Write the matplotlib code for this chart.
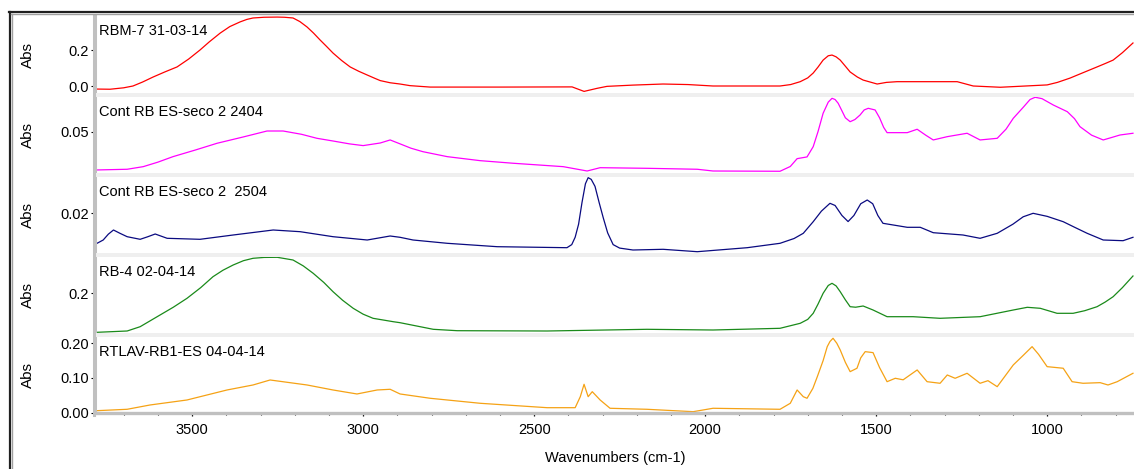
import matplotlib
matplotlib.use("Agg")
import matplotlib.pyplot as plt
from matplotlib.ticker import MultipleLocator, FormatStrFormatter
from matplotlib.lines import Line2D
from matplotlib.patches import Rectangle

plt.rcParams['font.family'] = ['Liberation Sans', 'DejaVu Sans']

# ---------------- data: (wavenumber, absorbance) ----------------
titles = ["RBM-7 31-03-14", "Cont RB ES-seco 2 2404", "Cont RB ES-seco 2  2504",
          "RB-4 02-04-14", "RTLAV-RB1-ES 04-04-14"]
colors = ["#ff0000", "#ff00ff", "#0a0a80", "#1a8a1a", "#f5a215"]

red = [(3784, -0.012), (3778, -0.017), (3740, -0.018), (3700, -0.01), (3673, 0.0),
       (3645, 0.022), (3614, 0.05), (3580, 0.078), (3544, 0.106), (3510, 0.15),
       (3477, 0.2), (3450, 0.245), (3418, 0.294), (3390, 0.33), (3360, 0.356),
       (3340, 0.37), (3322, 0.378), (3290, 0.382), (3251, 0.383), (3230, 0.382),
       (3205, 0.378), (3185, 0.358), (3164, 0.328), (3145, 0.294), (3126, 0.256),
       (3107, 0.22), (3088, 0.183), (3063, 0.142), (3038, 0.106), (3013, 0.082),
       (2988, 0.061), (2965, 0.042), (2950, 0.03), (2921, 0.018), (2892, 0.011),
       (2863, 0.002), (2804, -0.006), (2600, -0.006), (2389, -0.005), (2354, -0.03),
       (2316, -0.013), (2287, -0.002), (2211, 0.005), (2123, 0.011), (2050, 0.008),
       (1977, 0.0), (1850, 0.0), (1781, 0.0), (1750, 0.008), (1722, 0.024),
       (1700, 0.045), (1684, 0.072), (1670, 0.105), (1655, 0.144), (1640, 0.168),
       (1629, 0.172), (1617, 0.162), (1605, 0.144), (1590, 0.11), (1576, 0.078),
       (1555, 0.05), (1538, 0.033), (1497, 0.011), (1470, 0.02), (1439, 0.024),
       (1263, 0.024), (1216, 0.0), (1137, -0.007), (1000, 0.006), (970, 0.02),
       (933, 0.044), (900, 0.07), (854, 0.106), (830, 0.125), (807, 0.144),
       (780, 0.185), (749, 0.239)]

magenta = [(3784, 0.0058), (3778, 0.006), (3690, 0.0068), (3643, 0.0098), (3600, 0.015),
           (3556, 0.0213), (3490, 0.029), (3427, 0.0367), (3350, 0.044), (3281, 0.0508),
           (3234, 0.0508), (3180, 0.047), (3135, 0.0424), (3088, 0.0393), (3040, 0.036),
           (3000, 0.034), (2950, 0.037), (2921, 0.0405), (2892, 0.036), (2860, 0.031),
           (2825, 0.027), (2754, 0.0213), (2658, 0.0167), (2561, 0.0137), (2415, 0.0098),
           (2345, 0.0048), (2307, 0.0086), (2170, 0.0079), (2023, 0.0068), (1977, 0.0048),
           (1781, 0.0045), (1751, 0.010), (1731, 0.019), (1702, 0.021), (1684, 0.0328),
           (1670, 0.05), (1655, 0.0712), (1640, 0.084), (1629, 0.0884), (1620, 0.087),
           (1611, 0.0827), (1600, 0.074), (1590, 0.066), (1576, 0.0615), (1562, 0.064),
           (1547, 0.0692), (1535, 0.075), (1523, 0.0769), (1503, 0.075), (1490, 0.066),
           (1478, 0.055), (1468, 0.0489), (1409, 0.0489), (1380, 0.0528), (1355, 0.046),
           (1333, 0.0405), (1292, 0.0443), (1234, 0.0482), (1196, 0.0405), (1146, 0.0424),
           (1120, 0.053), (1099, 0.0654), (1070, 0.078), (1050, 0.087), (1035, 0.0896),
           (1015, 0.088), (982, 0.0807), (941, 0.073), (920, 0.065), (904, 0.0558),
           (870, 0.046), (836, 0.0405), (810, 0.0435), (787, 0.0462), (749, 0.0482)]

navy = [(3784, 0.0134), (3778, 0.0131), (3760, 0.01386), (3745, 0.0152), (3730, 0.01616),
        (3711, 0.0154), (3690, 0.01462), (3652, 0.01402), (3630, 0.0146), (3608, 0.01524),
        (3573, 0.01425), (3477, 0.01402), (3380, 0.01501), (3263, 0.01616), (3184, 0.01577),
        (3088, 0.01462), (2988, 0.01386), (2921, 0.01478), (2892, 0.01448), (2854, 0.01386),
        (2754, 0.0131), (2608, 0.01232), (2404, 0.01209), (2390, 0.0128), (2380, 0.0145),
        (2370, 0.0175), (2360, 0.0225), (2350, 0.0268), (2342, 0.0282), (2333, 0.0278),
        (2322, 0.0262), (2310, 0.0225), (2298, 0.0190), (2285, 0.0155), (2269, 0.0128),
        (2250, 0.0120), (2211, 0.01156), (2123, 0.01172), (2023, 0.01117), (1877, 0.01209),
        (1781, 0.0131), (1740, 0.0142), (1713, 0.0154), (1684, 0.01807), (1660, 0.0205),
        (1635, 0.0223), (1620, 0.0218), (1600, 0.0195), (1582, 0.0181), (1565, 0.0195),
        (1545, 0.0222), (1526, 0.02306), (1510, 0.0222), (1495, 0.0195), (1480, 0.0177),
        (1409, 0.01678), (1371, 0.01678), (1333, 0.01554), (1246, 0.01501), (1196, 0.01425),
        (1146, 0.0154), (1100, 0.0175), (1070, 0.0192), (1041, 0.02), (1000, 0.0193),
        (953, 0.01807), (920, 0.0168), (883, 0.0154), (836, 0.01386), (778, 0.0137),
        (749, 0.01448)]

green = [(3784, 0.110), (3778, 0.1103), (3690, 0.1133), (3652, 0.1232), (3594, 0.150),
         (3555, 0.168), (3515, 0.1885), (3475, 0.213), (3439, 0.2382), (3410, 0.253),
         (3380, 0.2651), (3350, 0.275), (3322, 0.2805), (3290, 0.2825), (3251, 0.2828),
         (3205, 0.2766), (3175, 0.263), (3146, 0.246), (3115, 0.225), (3088, 0.2037),
         (3060, 0.184), (3029, 0.1655), (3000, 0.152), (2971, 0.1425), (2912, 0.1347),
         (2892, 0.1324), (2795, 0.1172), (2725, 0.114), (2462, 0.1133), (2170, 0.1172),
         (1977, 0.1156), (1781, 0.1195), (1722, 0.131), (1700, 0.14), (1684, 0.154),
         (1670, 0.175), (1655, 0.2), (1640, 0.218), (1629, 0.223), (1617, 0.217),
         (1605, 0.2037), (1590, 0.185), (1576, 0.1692), (1560, 0.168), (1538, 0.1708),
         (1509, 0.1616), (1468, 0.1462), (1392, 0.1462), (1313, 0.1425), (1196, 0.1462),
         (1099, 0.1616), (1058, 0.1678), (1020, 0.1655), (971, 0.154), (924, 0.154),
         (890, 0.16), (854, 0.1692), (830, 0.18), (807, 0.1922), (780, 0.213),
         (749, 0.2398)]

orange = [(3784, 0.005), (3778, 0.0058), (3690, 0.0098), (3623, 0.0222), (3515, 0.0366),
          (3398, 0.0654), (3322, 0.0798), (3272, 0.0942), (3164, 0.0798), (3088, 0.0654),
          (3018, 0.0539), (2959, 0.0654), (2921, 0.0674), (2892, 0.0539), (2804, 0.0415),
          (2658, 0.0271), (2462, 0.0144), (2380, 0.0144), (2365, 0.0461), (2354, 0.0818),
          (2342, 0.0461), (2330, 0.0605), (2307, 0.0366), (2278, 0.0127), (2170, 0.0098),
          (2035, 0.0029), (1977, 0.0127), (1781, 0.0098), (1751, 0.0271), (1731, 0.0654),
          (1713, 0.0461), (1702, 0.0415), (1685, 0.07), (1672, 0.1037), (1655, 0.15),
          (1643, 0.1902), (1635, 0.205), (1626, 0.2144), (1615, 0.2), (1605, 0.1807),
          (1590, 0.145), (1576, 0.1182), (1556, 0.128), (1545, 0.158), (1532, 0.1758),
          (1509, 0.173), (1490, 0.13), (1468, 0.0893), (1444, 0.0991), (1421, 0.0947),
          (1380, 0.1231), (1351, 0.0893), (1313, 0.0847), (1292, 0.1086), (1269, 0.0991),
          (1234, 0.1135), (1196, 0.0847), (1173, 0.0922), (1146, 0.0749), (1099, 0.1375),
          (1070, 0.165), (1044, 0.1902), (1025, 0.168), (1000, 0.1326), (953, 0.128),
          (927, 0.0893), (895, 0.0847), (845, 0.0865), (822, 0.0798), (795, 0.0893),
          (749, 0.1135)]

series = [red, magenta, navy, green, orange]

ylims = [(-0.0389, 0.389), (0.0025, 0.0899), (0.01087, 0.02835), (0.1087, 0.2835), (-0.0009, 0.218)]
ymajor = [0.2, 0.05, 0.02, 0.1, 0.1]
yminor = [0.05, 0.01, 0.002, 0.02, None]
yfmt = ["%.1f", "%.2f", "%.2f", "%.1f", "%.2f"]
xlim = (3784, 746)

# ---------------- layout ----------------
W, H = 1134, 469
fig = plt.figure(figsize=(W / 100, H / 100), dpi=100)
fig.patch.set_facecolor("white")
left_px = 95
panels_px = [(16, 93), (97, 173), (177, 253), (257, 333), (337, 413)]

def fx(px):
    return px / W

def fy(py):
    return 1 - py / H

# grey separators between panels
for (t0, b0), (t1, b1) in zip(panels_px[:-1], panels_px[1:]):
    fig.patches.append(Rectangle((fx(left_px), fy(t1)), 1 - fx(left_px), (t1 - b0) / H,
                                 transform=fig.transFigure, facecolor="#efefef",
                                 edgecolor="none", zorder=0))

for i, (top, bot) in enumerate(panels_px):
    ax = fig.add_axes([fx(left_px), fy(bot), 1 - fx(left_px), (bot - top) / H])
    wn, ab = zip(*series[i])
    ax.plot(wn, ab, color=colors[i], lw=0.9)
    ax.set_xlim(*xlim)
    ax.set_ylim(*ylims[i])
    for s in ["top", "right", "bottom"]:
        ax.spines[s].set_visible(False)
    ax.spines["left"].set_color("#c0c0c0")
    ax.spines["left"].set_linewidth(2.2)
    ax.yaxis.set_major_locator(MultipleLocator(ymajor[i]))
    ax.yaxis.set_major_formatter(FormatStrFormatter(yfmt[i]))
    if yminor[i]:
        ax.yaxis.set_minor_locator(MultipleLocator(yminor[i]))
    ax.tick_params(axis="y", which="major", length=3, width=0.8, color="black",
                   labelsize=10.5, pad=1.5)
    ax.tick_params(axis="y", which="minor", length=1.2, width=0.8, color="black")
    ax.xaxis.set_major_locator(MultipleLocator(500))
    ax.xaxis.set_minor_locator(MultipleLocator(100))
    if i < 4:
        ax.tick_params(axis="x", which="both", bottom=False, labelbottom=False)
    else:
        ax.spines["bottom"].set_visible(True)
        ax.spines["bottom"].set_color("#c0c0c0")
        ax.spines["bottom"].set_linewidth(2.4)
        ax.tick_params(axis="x", which="major", length=2.5, width=0.9, color="black",
                       labelsize=10.5, pad=5)
        ax.tick_params(axis="x", which="minor", length=1.5, width=0.8, color="black")
    fig.text(fx(99), fy(top + 19), titles[i], fontsize=10.5, ha="left", va="baseline")
    fig.text(fx(27.5), fy((top + bot) / 2), "Abs", fontsize=11, rotation=90,
             ha="center", va="center")

# continuous grey left axis bar
fig.add_artist(Line2D([fx(94), fx(94)], [fy(16), fy(415)], transform=fig.transFigure,
                      color="#c0c0c0", lw=2.2, zorder=0.5))

fig.text(fx(615), fy(458), "Wavenumbers (cm-1)", fontsize=10.5, ha="center", va="center")

# outer window frame
fig.add_artist(Line2D([fx(9.5), fx(9.5)], [fy(12), 0], transform=fig.transFigure,
                      color="#202020", lw=1.6))
fig.add_artist(Line2D([fx(11.5), fx(11.5)], [fy(14), 0], transform=fig.transFigure,
                      color="#a0a0a0", lw=1.0))
fig.add_artist(Line2D([fx(8.5), 1], [fy(12.5), fy(12.5)], transform=fig.transFigure,
                      color="#202020", lw=1.6))
fig.add_artist(Line2D([fx(11), 1], [fy(14.5), fy(14.5)], transform=fig.transFigure,
                      color="#a0a0a0", lw=1.0))

fig.savefig("out.png", dpi=100)
